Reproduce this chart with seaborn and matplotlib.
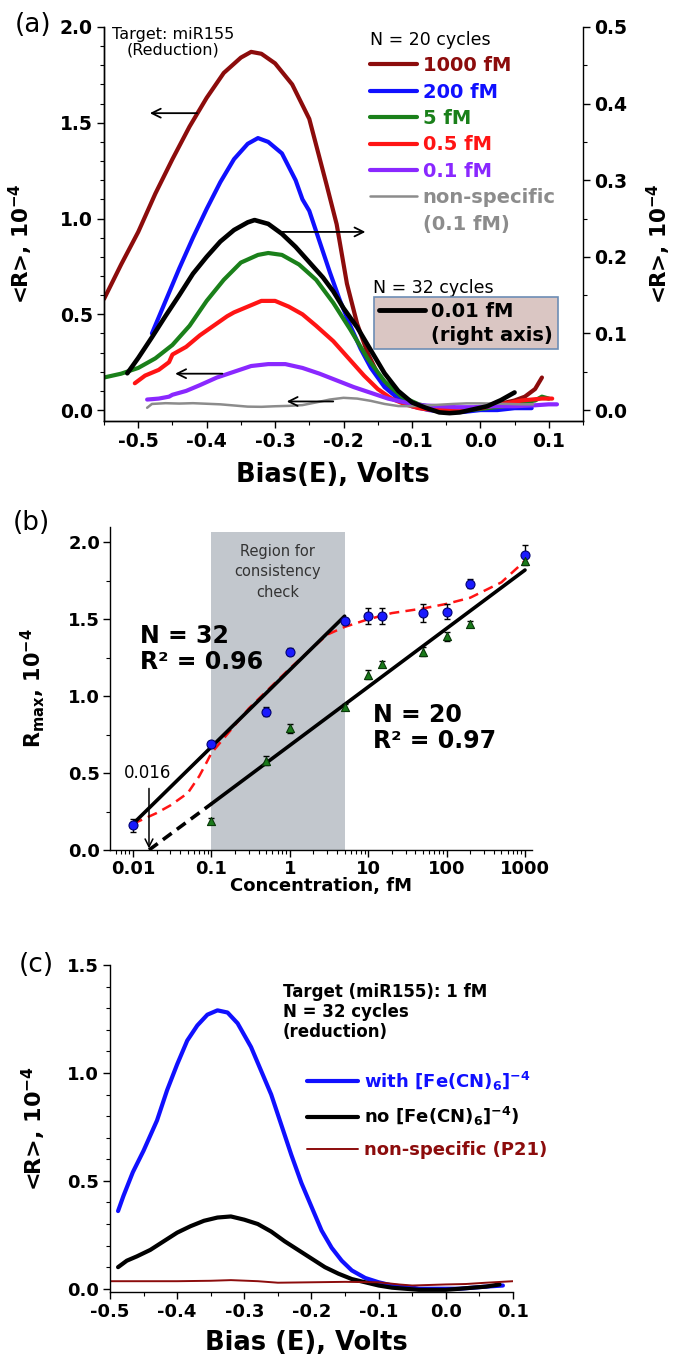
import matplotlib
matplotlib.use('Agg')
import matplotlib.pyplot as plt
from matplotlib.lines import Line2D
from matplotlib.ticker import MultipleLocator, LogLocator, NullFormatter
import seaborn as sns

# ---------------- panel (a): <R> vs bias, N = 20 cycles ----------------
x_1000 = [-0.55, -0.525, -0.50, -0.475, -0.45, -0.425, -0.40, -0.375, -0.35, -0.335, -0.32, -0.30,
          -0.275, -0.25, -0.225, -0.21, -0.195, -0.18, -0.165, -0.15, -0.125, -0.10, -0.075, -0.05,
          -0.025, 0.0, 0.025, 0.05, 0.065, 0.08, 0.09]
y_1000 = [0.58, 0.76, 0.93, 1.13, 1.31, 1.48, 1.63, 1.76, 1.84, 1.87, 1.86, 1.81,
          1.70, 1.52, 1.18, 0.97, 0.66, 0.45, 0.30, 0.19, 0.08, 0.03, 0.01, 0.0,
          0.0, 0.01, 0.03, 0.05, 0.07, 0.11, 0.17]

x_200 = [-0.48, -0.46, -0.44, -0.42, -0.40, -0.38, -0.36, -0.34, -0.325, -0.31, -0.29, -0.27, -0.26,
         -0.25, -0.235, -0.22, -0.205, -0.19, -0.175, -0.16, -0.14, -0.12, -0.10, -0.075, -0.05,
         -0.025, 0.0, 0.025, 0.05, 0.075]
y_200 = [0.40, 0.57, 0.74, 0.90, 1.05, 1.19, 1.31, 1.39, 1.42, 1.40, 1.34, 1.20, 1.10,
         1.04, 0.88, 0.72, 0.57, 0.44, 0.32, 0.22, 0.12, 0.06, 0.02, 0.0, -0.01,
         -0.01, 0.0, 0.0, 0.01, 0.01]

x_5 = [-0.55, -0.525, -0.50, -0.475, -0.45, -0.425, -0.40, -0.375, -0.35, -0.325, -0.31, -0.29,
       -0.265, -0.24, -0.215, -0.19, -0.165, -0.14, -0.115, -0.09, -0.065, -0.04, -0.015, 0.01,
       0.035, 0.06, 0.08, 0.09, 0.10]
y_5 = [0.17, 0.19, 0.22, 0.27, 0.34, 0.44, 0.57, 0.68, 0.77, 0.81, 0.82, 0.81,
       0.76, 0.68, 0.56, 0.42, 0.27, 0.15, 0.07, 0.03, 0.01, 0.0, 0.0, 0.01,
       0.02, 0.04, 0.05, 0.07, 0.06]

x_05 = [-0.505, -0.49, -0.47, -0.455, -0.45, -0.43, -0.41, -0.39, -0.37, -0.36, -0.34, -0.32, -0.30,
        -0.28, -0.26, -0.24, -0.215, -0.19, -0.17, -0.15, -0.13, -0.11, -0.09, -0.07, -0.05,
        -0.03, 0.0, 0.03, 0.06, 0.09, 0.105]
y_05 = [0.14, 0.18, 0.21, 0.25, 0.29, 0.33, 0.39, 0.44, 0.49, 0.51, 0.54, 0.57, 0.57,
        0.54, 0.50, 0.44, 0.36, 0.26, 0.18, 0.11, 0.06, 0.03, 0.01, 0.0, 0.0,
        0.0, 0.01, 0.03, 0.05, 0.06, 0.06]

x_01 = [-0.487, -0.47, -0.455, -0.45, -0.43, -0.41, -0.385, -0.36, -0.335, -0.31, -0.285, -0.26,
        -0.235, -0.21, -0.185, -0.16, -0.135, -0.11, -0.085, -0.06, -0.035, -0.01, 0.02, 0.05,
        0.08, 0.10, 0.112]
y_01 = [0.055, 0.06, 0.07, 0.08, 0.10, 0.13, 0.17, 0.20, 0.23, 0.24, 0.24, 0.22,
        0.19, 0.155, 0.12, 0.09, 0.06, 0.04, 0.025, 0.02, 0.015, 0.015, 0.02, 0.02,
        0.025, 0.03, 0.03]

x_ns = [-0.487, -0.48, -0.46, -0.44, -0.42, -0.40, -0.38, -0.36, -0.34, -0.32, -0.30, -0.28, -0.26,
        -0.24, -0.22, -0.20, -0.18, -0.16, -0.14, -0.12, -0.10, -0.08, -0.06, -0.04, -0.02, 0.0,
        0.02, 0.04, 0.06, 0.077]
y_ns = [0.012, 0.032, 0.036, 0.034, 0.036, 0.033, 0.030, 0.024, 0.018, 0.017, 0.020, 0.022, 0.026,
        0.040, 0.055, 0.064, 0.060, 0.048, 0.032, 0.021, 0.020, 0.024, 0.028, 0.032, 0.035, 0.035,
        0.034, 0.032, 0.030, 0.030]

# N = 32 cycles, 0.01 fM, right axis
x_001 = [-0.516, -0.50, -0.48, -0.46, -0.44, -0.42, -0.40, -0.38, -0.36, -0.34, -0.33, -0.31, -0.29,
         -0.27, -0.25, -0.23, -0.215, -0.20, -0.18, -0.16, -0.14, -0.12, -0.10, -0.08, -0.06,
         -0.045, -0.03, -0.01, 0.01, 0.03, 0.05]
y_001 = [0.048, 0.068, 0.095, 0.123, 0.150, 0.178, 0.200, 0.220, 0.235, 0.245, 0.248, 0.243, 0.230,
         0.213, 0.193, 0.173, 0.155, 0.133, 0.108, 0.078, 0.048, 0.025, 0.010, 0.003, -0.003,
         -0.004, -0.003, 0.001, 0.005, 0.013, 0.023]

# ---------------- panel (b): Rmax vs concentration ----------------
conc_32 = [0.01, 0.1, 0.5, 1, 5, 10, 15, 50, 100, 200, 1000]
rmax_32 = [0.16, 0.69, 0.90, 1.29, 1.49, 1.52, 1.52, 1.54, 1.55, 1.73, 1.92]
err_32 = [0.04, 0.015, 0.03, 0.02, 0.02, 0.05, 0.05, 0.06, 0.05, 0.03, 0.06]

conc_20 = [0.1, 0.5, 1, 5, 10, 15, 50, 100, 200, 1000]
rmax_20 = [0.19, 0.58, 0.79, 0.93, 1.14, 1.21, 1.29, 1.39, 1.47, 1.88]
err_20 = [0.02, 0.03, 0.03, 0.02, 0.03, 0.02, 0.03, 0.03, 0.02, 0.03]

trend_x = [0.01, 0.02, 0.03, 0.05, 0.07, 0.085, 0.1, 0.3, 1, 3, 5, 10, 20, 50, 100, 200, 500, 1000]
trend_y = [0.17, 0.24, 0.29, 0.37, 0.48, 0.56, 0.63, 0.92, 1.18, 1.40, 1.45, 1.50, 1.54, 1.57,
           1.60, 1.64, 1.74, 1.88]

fit32_x = [0.01, 5]
fit32_y = [0.17, 1.52]
fit20_x = [0.1, 1000]
fit20_y = [0.30, 1.82]
fit20_ext_x = [0.016, 0.1]
fit20_ext_y = [0.0, 0.30]

region_x = [0.1, 5]
region_top = 2.07

# ---------------- panel (c): 1 fM, N = 32 ----------------
xc_with = [-0.488, -0.48, -0.466, -0.45, -0.43, -0.415, -0.40, -0.385, -0.37, -0.355, -0.34, -0.325,
           -0.31, -0.29, -0.275, -0.26, -0.245, -0.23, -0.215, -0.20, -0.185, -0.17, -0.155, -0.14,
           -0.12, -0.10, -0.08, -0.06, -0.04, -0.02, 0.0, 0.02, 0.04, 0.06, 0.085]
yc_with = [0.36, 0.43, 0.54, 0.64, 0.78, 0.92, 1.04, 1.15, 1.22, 1.27, 1.29, 1.28,
           1.23, 1.12, 1.01, 0.90, 0.76, 0.62, 0.49, 0.38, 0.27, 0.19, 0.13, 0.085,
           0.05, 0.03, 0.015, 0.01, 0.0, 0.0, 0.0, 0.0, 0.005, 0.01, 0.015]

xc_no = [-0.488, -0.475, -0.46, -0.44, -0.42, -0.40, -0.38, -0.36, -0.34, -0.32, -0.30, -0.28,
         -0.26, -0.24, -0.22, -0.20, -0.18, -0.16, -0.14, -0.12, -0.10, -0.08, -0.06, -0.04,
         -0.02, 0.0, 0.02, 0.04, 0.06, 0.08]
yc_no = [0.10, 0.13, 0.15, 0.18, 0.22, 0.26, 0.29, 0.315, 0.33, 0.335, 0.32, 0.30,
         0.265, 0.22, 0.18, 0.14, 0.10, 0.07, 0.045, 0.03, 0.015, 0.005, 0.0, -0.005,
         -0.005, -0.005, 0.0, 0.005, 0.01, 0.02]

xc_ns = [-0.5, -0.45, -0.4, -0.35, -0.32, -0.28, -0.25, -0.2, -0.15, -0.1, -0.07, -0.05, -0.02,
         0.0, 0.03, 0.06, 0.1]
yc_ns = [0.035, 0.035, 0.035, 0.037, 0.04, 0.035, 0.028, 0.03, 0.032, 0.03, 0.02, 0.015, 0.018,
         0.02, 0.022, 0.028, 0.035]

C_DRED = '#8c0c0c'
C_BLUE = '#1010ff'
C_GREEN = '#1a801a'
C_RED = '#ff1414'
C_PURPLE = '#8a28ff'
C_GRAY = '#8c8c8c'

sns.set_theme(style='ticks')
plt.rcParams.update({
    'font.family': ['DejaVu Sans'],
    'mathtext.default': 'bf',
    'axes.unicode_minus': False,
    'text.color': 'black',
    'axes.labelcolor': 'black',
    'axes.edgecolor': 'black',
    'xtick.color': 'black',
    'ytick.color': 'black',
    'axes.linewidth': 1.0,
    'lines.solid_joinstyle': 'round',
    'lines.solid_capstyle': 'round',
    'xtick.direction': 'out',
    'ytick.direction': 'out',
    'xtick.major.size': 5, 'ytick.major.size': 5,
    'xtick.minor.size': 3, 'ytick.minor.size': 3,
    'xtick.major.width': 1, 'ytick.major.width': 1,
    'xtick.minor.width': 0.8, 'ytick.minor.width': 0.8,
    'xtick.minor.visible': True, 'ytick.minor.visible': True,
})


def line(ax, x, y, color, lw, **kw):
    sns.lineplot(x=x, y=y, ax=ax, color=color, linewidth=lw, sort=False,
                 estimator=None, legend=False, **kw)


def arrow(ax, x0, x1, y, **kw):
    ax.annotate('', xy=(x1, y), xytext=(x0, y),
                arrowprops=dict(arrowstyle='->', color='black', lw=1.3,
                                mutation_scale=16, shrinkA=0, shrinkB=0), **kw)


def style_ticks(ax, size):
    for lab in ax.get_xticklabels() + ax.get_yticklabels():
        lab.set_fontweight('bold')
        lab.set_fontsize(size)


fig = plt.figure(figsize=(6.79, 13.55), dpi=100)

# ======================= (a) =======================
ax = fig.add_axes([0.1532, 0.6893, 0.7054, 0.2908])
for x, y, c, lw in [(x_1000, y_1000, C_DRED, 3), (x_200, y_200, C_BLUE, 3), (x_5, y_5, C_GREEN, 3),
                    (x_05, y_05, C_RED, 3), (x_01, y_01, C_PURPLE, 3), (x_ns, y_ns, C_GRAY, 1.8)]:
    line(ax, x, y, c, lw)
ax.set_xlim(-0.55, 0.15)
ax.set_ylim(-0.057, 2.0)
ax.xaxis.set_minor_locator(MultipleLocator(0.05))
ax.yaxis.set_major_locator(MultipleLocator(0.5))
ax.yaxis.set_minor_locator(MultipleLocator(0.1))
ax.set_xticks([-0.5, -0.4, -0.3, -0.2, -0.1, 0.0, 0.1])
ax.set_xticklabels(['-0.5', '-0.4', '-0.3', '-0.2', '-0.1', '0.0', '0.1'])
ax.spines['top'].set_visible(False)
ax.spines['right'].set_visible(False)
ax.tick_params(axis='both', pad=3)
style_ticks(ax, 13.5)
ax.set_xlabel('Bias(E), Volts', fontsize=18.5, fontweight='bold')
ax.xaxis.set_label_coords(0.478, -0.105)
ax.set_ylabel('<R>, 10$^{-4}$', fontsize=15.5, fontweight='bold')
ax.yaxis.set_label_coords(-0.145, 0.45)

axr = ax.twinx()
line(axr, x_001, y_001, 'black', 3.3)
axr.set_ylim(-0.01425, 0.5)
axr.yaxis.set_major_locator(MultipleLocator(0.1))
axr.yaxis.set_minor_locator(MultipleLocator(0.05))
axr.spines['top'].set_visible(False)
axr.tick_params(axis='y', pad=3)
style_ticks(axr, 13.5)
axr.set_ylabel('<R>, 10$^{-4}$', fontsize=15.5, fontweight='bold', rotation=90)
axr.yaxis.set_label_coords(1.13, 0.45)

arrow(ax, -0.414, -0.483, 1.55)
arrow(ax, -0.293, -0.168, 0.93)
arrow(ax, -0.377, -0.446, 0.19)
arrow(ax, -0.215, -0.283, 0.045)

ax.text(-0.449, 2.0, 'Target: miR155\n(Reduction)', ha='center', va='top', fontsize=11.5,
        linespacing=1.05)

handles = [Line2D([], [], color=c, lw=3) for c in (C_DRED, C_BLUE, C_GREEN, C_RED, C_PURPLE)]
handles += [Line2D([], [], color=C_GRAY, lw=1.8), Line2D([], [], color='none')]
labels = ['1000 fM', '200 fM', '5 fM', '0.5 fM', '0.1 fM', 'non-specific', '(0.1 fM)']
leg = ax.legend(handles, labels, loc='upper left', bbox_to_anchor=(0.556, 0.99), frameon=False,
                title='N = 20 cycles', title_fontsize=12.5, alignment='left',
                prop={'weight': 'bold', 'size': 14}, handlelength=2.4, handletextpad=0.3,
                labelspacing=0.38, borderpad=0, borderaxespad=0)
for t, c in zip(leg.get_texts(), [C_DRED, C_BLUE, C_GREEN, C_RED, C_PURPLE, C_GRAY, C_GRAY]):
    t.set_color(c)

axr.text(-0.157, 0.148, 'N = 32 cycles', ha='left', va='bottom', fontsize=12.5)
leg2 = axr.legend([Line2D([], [], color='black', lw=3.5), Line2D([], [], color='none')],
                  ['0.01 fM', '(right axis)'], loc='upper left', bbox_to_anchor=(0.563, 0.315),
                  frameon=True, fancybox=False, facecolor='#dac6c3', edgecolor='#6d8db5',
                  framealpha=1, prop={'weight': 'bold', 'size': 14}, handlelength=2.4,
                  handletextpad=0.3, labelspacing=0.25, borderpad=0.25, borderaxespad=0)
leg2.get_frame().set_linewidth(1.2)

fig.text(0.049, 0.9815, '(a)', fontsize=19, ha='center', va='center')

# ======================= (b) =======================
axb = fig.add_axes([0.1620, 0.3727, 0.6215, 0.2384])
axb.set_xscale('log')
axb.fill_between(region_x, 0, region_top, color='#c2c7cd', lw=0, zorder=0)
line(axb, trend_x, trend_y, C_RED, 1.8, linestyle=(0, (4, 2.5)))
line(axb, fit32_x, fit32_y, 'black', 2.6)
line(axb, fit20_x, fit20_y, 'black', 2.6)
line(axb, fit20_ext_x, fit20_ext_y, 'black', 2.6, linestyle=(0, (3, 1.8)))
axb.errorbar(conc_32, rmax_32, yerr=err_32, fmt='none', ecolor='black', elinewidth=1,
             capsize=2.5, capthick=1, zorder=3)
axb.errorbar(conc_20, rmax_20, yerr=err_20, fmt='none', ecolor='black', elinewidth=1,
             capsize=2.5, capthick=1, zorder=3)
sns.scatterplot(x=conc_32, y=rmax_32, ax=axb, color='#1a1aff', edgecolor='#000070', s=42,
                marker='o', linewidth=0.8, zorder=4, legend=False)
sns.scatterplot(x=conc_20, y=rmax_20, ax=axb, color='#1a7a1a', edgecolor='#0a3a0a', s=34,
                marker='^', linewidth=0.8, zorder=4, legend=False)
axb.set_xlim(0.00509, 1228)
axb.set_ylim(0, 2.1)
axb.set_xticks([0.01, 0.1, 1, 10, 100, 1000])
axb.set_xticklabels(['0.01', '0.1', '1', '10', '100', '1000'])
axb.xaxis.set_minor_locator(LogLocator(base=10, subs=range(2, 10), numticks=20))
axb.xaxis.set_minor_formatter(NullFormatter())
axb.yaxis.set_major_locator(MultipleLocator(0.5))
axb.yaxis.set_minor_locator(MultipleLocator(0.25))
axb.spines['top'].set_visible(False)
axb.spines['right'].set_visible(False)
axb.tick_params(axis='both', pad=2)
style_ticks(axb, 13)
axb.set_xlabel('Concentration, fM', fontsize=13, fontweight='bold')
axb.xaxis.set_label_coords(0.5, -0.085)
axb.set_ylabel('R$_{max}$, 10$^{-4}$', fontsize=15, fontweight='bold')
axb.yaxis.set_label_coords(-0.15, 0.5)

axb.text(0.70, 1.99, 'Region for\nconsistency\ncheck', ha='center', va='top', fontsize=10.5,
         color='#333333', linespacing=1.45)
axb.text(0.0123, 1.47, 'N = 32\nR\u00b2 = 0.96', ha='left', va='top', fontsize=17,
         fontweight='bold', linespacing=1.1)
axb.text(11.4, 0.955, 'N = 20\nR\u00b2 = 0.97', ha='left', va='top', fontsize=17,
         fontweight='bold', linespacing=1.1)
axb.annotate('', xy=(0.016, 0.01), xytext=(0.016, 0.40),
             arrowprops=dict(arrowstyle='->', color='black', lw=1.1, mutation_scale=14,
                             shrinkA=0, shrinkB=0))
axb.text(0.0155, 0.5, '0.016', ha='center', va='center', fontsize=12)

fig.text(0.046, 0.614, '(b)', fontsize=19, ha='center', va='center')

# ======================= (c) =======================
axc = fig.add_axes([0.1620, 0.0465, 0.5935, 0.2413])
line(axc, xc_with, yc_with, C_BLUE, 3)
line(axc, xc_no, yc_no, 'black', 3)
line(axc, xc_ns, yc_ns, C_DRED, 1.4)
axc.set_xlim(-0.5, 0.1)
axc.set_ylim(-0.015, 1.5)
axc.set_xticks([-0.5, -0.4, -0.3, -0.2, -0.1, 0.0, 0.1])
axc.set_xticklabels(['-0.5', '-0.4', '-0.3', '-0.2', '-0.1', '0.0', '0.1'])
axc.xaxis.set_minor_locator(MultipleLocator(0.05))
axc.yaxis.set_major_locator(MultipleLocator(0.5))
axc.yaxis.set_minor_locator(MultipleLocator(0.1))
axc.spines['top'].set_visible(False)
axc.spines['right'].set_visible(False)
axc.tick_params(axis='both', pad=3)
style_ticks(axc, 13)
axc.set_xlabel('Bias (E), Volts', fontsize=18.5, fontweight='bold')
axc.xaxis.set_label_coords(0.487, -0.115)
axc.set_ylabel('<R>, 10$^{-4}$', fontsize=16, fontweight='bold')
axc.yaxis.set_label_coords(-0.155, 0.5)

axc.text(-0.243, 1.417, 'Target (miR155): 1 fM\nN = 32 cycles\n(reduction)', ha='left',
         va='top', fontsize=12, fontweight='bold', linespacing=1.15)
hc = [Line2D([], [], color=C_BLUE, lw=3), Line2D([], [], color='black', lw=3),
      Line2D([], [], color=C_DRED, lw=1.4)]
legc = axc.legend(hc, ['with [Fe(CN)$_6$]$^{-4}$', 'no [Fe(CN)$_6$]$^{-4}$)', 'non-specific (P21)'],
                  loc='upper left', bbox_to_anchor=(0.489, 0.68), frameon=False,
                  prop={'weight': 'bold', 'size': 13}, handlelength=2.8, handletextpad=0.33,
                  labelspacing=0.7, borderpad=0, borderaxespad=0)
for t, c in zip(legc.get_texts(), [C_BLUE, 'black', C_DRED]):
    t.set_color(c)

fig.text(0.054, 0.2875, '(c)', fontsize=19, ha='center', va='center')

fig.savefig('out.png', dpi=100)
